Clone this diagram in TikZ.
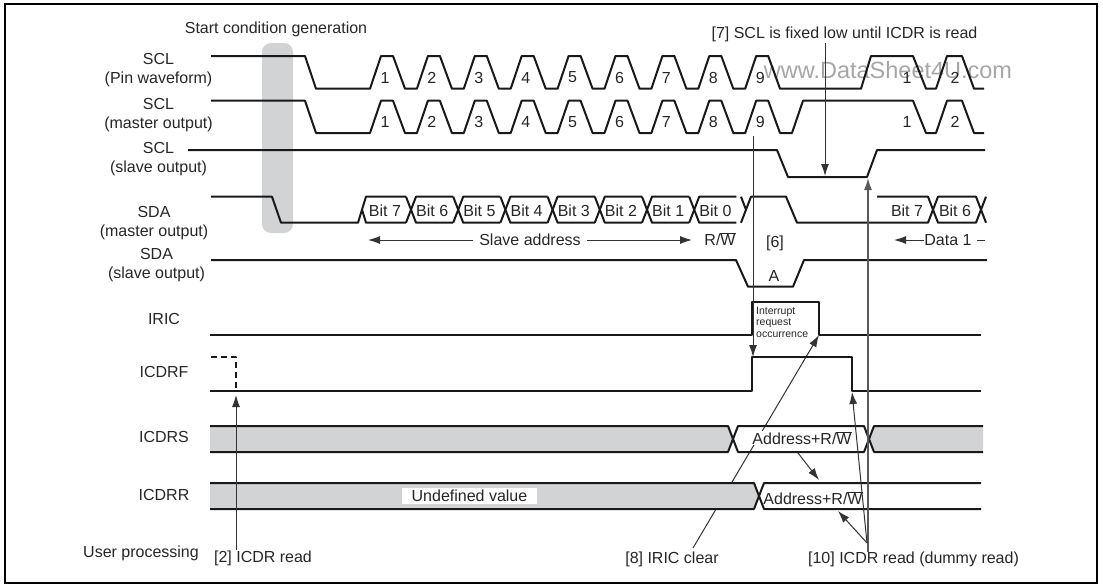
\documentclass[tikz,border=0pt]{standalone}
\usepackage{fontspec}
\setmainfont{Liberation Sans}
\usepackage{tikz}
\usetikzlibrary{arrows.meta,positioning,calc}
\definecolor{bandgray}{HTML}{D1D3D4}
\newcommand{\rwbar}{R/$\overline{\mbox{W}}$}

\begin{document}
\begin{tikzpicture}[
    x=1pt, y=-1pt,
    lbl/.style={inner sep=0pt, align=center, text=black!85, font=\fontsize{16}{19}\selectfont},
    small/.style={inner sep=0pt, align=left, text=black!85, font=\fontsize{10.5}{11.5}\selectfont},
    regvalue/.style={inner sep=0pt, fill=white, text=black!85, font=\fontsize{16}{19}\selectfont},
    wave/.style={line width=2pt, draw=black!90, line join=round},
    band/.style={fill=bandgray, draw=none},
    thinline/.style={line width=1pt, draw=black!80},
    arrow/.style={thinline, -{Latex[length=12pt, width=8pt]}}
]
    \useasboundingbox (0,0) rectangle (1103,584);
    \draw [line width=1.8pt] (5,4) rectangle (1097,583);

    % watermark and start band lie under everything
    \node [inner sep=0pt, text=black!35, font=\fontsize{23.5}{24}\selectfont] (watermark) at (888,70) {www.DataSheet4U.com};
    \node [band, rounded corners=9pt, minimum width=31pt, minimum height=190pt, inner sep=0pt] (startband) at (277.5,138) {};

    % signal names
    \node [lbl] (start) at (276,29) {Start condition generation};
    \node [lbl] (sclpin) at (158.5,70.5) {SCL\\(Pin waveform)};
    \node [lbl] (sclmaster) at (158.5,115.5) {SCL\\(master output)};
    \node [lbl] (sclslave) at (158.5,159.5) {SCL\\(slave output)};
    \node [lbl] (sdamaster) at (154,223.5) {SDA\\(master output)};
    \node [lbl] (sdaslave) at (156.5,265.5) {SDA\\(slave output)};
    \node [lbl] (iric) at (164,319) {IRIC};
    \node [lbl] (icdrf) at (164,372) {ICDRF};
    \node [lbl] (icdrs) at (164,437) {ICDRS};
    \node [lbl] (icdrr) at (164,495) {ICDRR};
    \node [lbl] (user) at (141,553) {User processing};

    % [8] passes under the gray bands and the register value
    \node [lbl] (clear) at (672,559) {[8] IRIC clear};
    \coordinate (clearfrom) at (693,548);
    \coordinate (cleartip) at (819,335);
    \draw [arrow] (clearfrom) -- (cleartip);

    % ICDRS and ICDRR
    \fill [band] (210,426) -- (728,426) -- (733,439) -- (728,452) -- (210,452) -- cycle;
    \fill [band] (983,426) -- (874,426) -- (869,439) -- (874,452) -- (983,452) -- cycle;
    \fill [band] (210,483) -- (754,483) -- (759,496) -- (754,509) -- (210,509) -- cycle;
    \draw [wave] (210,426) -- (728,426) -- (738,452) -- (864,452) -- (874,426) -- (983,426);
    \draw [wave] (210,452) -- (728,452) -- (738,426) -- (864,426) -- (874,452) -- (983,452);
    \draw [wave] (210,483) -- (754,483) -- (764,509) -- (981,509);
    \draw [wave] (210,509) -- (754,509) -- (764,483) -- (981,483);
    \node [regvalue] (valuers) at (802,438) {Address+\rwbar};
    \node [regvalue, fill=none] (valuerr) at (813,498) {Address+\rwbar};
    \node [regvalue, inner xsep=10pt, minimum height=15.5pt] (undefined) at (469.5,496) {Undefined value};

    % SCL pin and master
    \draw [wave] (211,56) -- (305,56) -- (316,88.7) -- (370,88.7)
        foreach \k in {1,...,8} { -- ++(11,-32.7) -- ++(12,0) -- ++(12,32.7) -- ++(11.9,0) }
        -- ++(11,-32.7) -- ++(12,0) -- (780,88.7) -- (861,88.7) -- (871,56) -- (913,56) -- (926,88.7) -- (936,88.7)
        -- (947,56) -- (962,56) -- (974,88.7) -- (984,88.7);
    \draw [wave] (211,100.7) -- (305,100.7) -- (316,133) -- (370,133)
        foreach \k in {1,...,8} { -- ++(11,-32.3) -- ++(12,0) -- ++(12,32.3) -- ++(11.9,0) }
        -- ++(11,-32.3) -- ++(12,0) -- (780,133) -- (792,133) -- (803,100.7) -- (913,100.7) -- (926,133) -- (936,133)
        -- (947,100.7) -- (962,100.7) -- (974,133) -- (984,133);
    \foreach \k in {1,...,9} {
        \node [lbl] (pin\k) at ({385+46.9*(\k-1)},77.5) {\k};
        \node [lbl] (master\k) at ({385+46.9*(\k-1)},122) {\k};
    }
    \node [lbl] (pinone) at (907,78) {1};
    \node [lbl] (pintwo) at (955,78) {2};
    \node [lbl] (masterone) at (907,122) {1};
    \node [lbl] (mastertwo) at (955,122) {2};

    % SCL slave
    \draw [wave] (188,150) -- (777,150) -- (788,177) -- (867,177) -- (877,150) -- (985,150);

    % SDA master
    \draw [wave] (211,196.7) -- (272,196.7) -- (281,222.7) -- (358,222.7) -- (366,196.7) -- (406,196.7);
    \draw [wave] (362,209.7) -- (366,222.7) -- (406,222.7);
    \foreach \x in {411,458.2,505.4,552.6,599.8,647,694.2} {
        \draw [wave] ({\x-5},196.7) -- ({\x+5},222.7) -- ({\x+42.2},222.7);
        \draw [wave] ({\x-5},222.7) -- ({\x+5},196.7) -- ({\x+42.2},196.7);
    }
    \draw [wave] (741,196.7) -- (746,209.7);
    \draw [wave] (741,222.7) -- (751,196.7) -- (786,196.7) -- (797,222.7) -- (928,222.7) -- (938,196.7) -- (976,196.7) -- (986,222.7);
    \draw [wave] (877,196.7) -- (928,196.7) -- (938,222.7) -- (976,222.7) -- (986,196.7);
    \foreach \k/\b in {0/7,1/6,2/5,3/4,4/3,5/2,6/1,7/0} {
        \node [lbl] (bit\b) at ({385+47.2*\k},210.5) {Bit \b};
    }
    \node [lbl] (sevenb) at (907,210.5) {Bit 7};
    \node [lbl] (sixb) at (955,210.5) {Bit 6};

    % field names under SDA
    \node [lbl] (address) at (530,240) {Slave address};
    \coordinate (addressl) at (368,240);
    \coordinate (addressr) at (692,240);
    \draw [arrow] (address.west) ++(-6,0) -- (addressl);
    \draw [arrow] (address.east) ++(6,0) -- (addressr);
    \node [lbl] (rw) at (720,239) {\rwbar};
    \node [lbl] (six) at (775,243) {[6]};
    \node [lbl] (data) at (948,240) {Data 1};
    \coordinate (datal) at (894,240);
    \coordinate (datar) at (985,240);
    \draw [arrow] (data.west) -- (datal);
    \draw [thinline] (data.east) ++(5,0) -- (datar);

    % SDA slave
    \draw [wave] (211,260) -- (736,260) -- (748,286.7) -- (793,286.7) -- (804,260) -- (987,260);
    \node [lbl] (ack) at (774,275.5) {A};

    % IRIC and ICDRF
    \draw [wave] (210,335) -- (752,335) -- (752,302) -- (819,302) -- (819,335) -- (981,335);
    \node [small, anchor=north west] (occur) at (756,307) {Interrupt\\request\\occurrence};
    \draw [wave] (210,391) -- (752,391) -- (752,357) -- (852,357) -- (852,391) -- (981,391);
    \draw [wave, dash pattern=on 6pt off 4pt] (211,357) -- (236,357) -- (236,391);

    % user actions
    \node [lbl] (fix) at (844.5,34) {[7] SCL is fixed low until ICDR is read};
    \coordinate (fixfrom) at (825,43);
    \coordinate (fixtip) at (825,176);
    \draw [arrow] (fixfrom) -- (fixtip);
    \coordinate (ninefrom) at (753,136);
    \coordinate (ninetip) at (753,357);
    \draw [arrow] (ninefrom) -- (ninetip);
    \node [lbl] (readtwo) at (263,558) {[2] ICDR read};
    \coordinate (readtwofrom) at (236,550);
    \coordinate (readtwotip) at (236,395);
    \draw [arrow] (readtwofrom) -- (readtwotip);
    \node [lbl] (readten) at (913.5,559) {[10] ICDR read (dummy read)};
    \coordinate (readtenfrom) at (868,552);
    \coordinate (readtenfork) at (867,543);
    \coordinate (readtenup) at (868,178);
    \coordinate (readtenflag) at (852,392);
    \coordinate (readtenrr) at (838,511);
    \draw [arrow, line width=1.5pt, draw=black!65] (readtenfrom) -- (readtenup);
    \draw [arrow] (readtenfork) -- (readtenflag);
    \draw [arrow] (readtenfork) -- (readtenrr);
    \coordinate (copyfrom) at (798,453);
    \coordinate (copytip) at (819,480);
    \draw [arrow] (copyfrom) -- (copytip);
\end{tikzpicture}
\end{document}
